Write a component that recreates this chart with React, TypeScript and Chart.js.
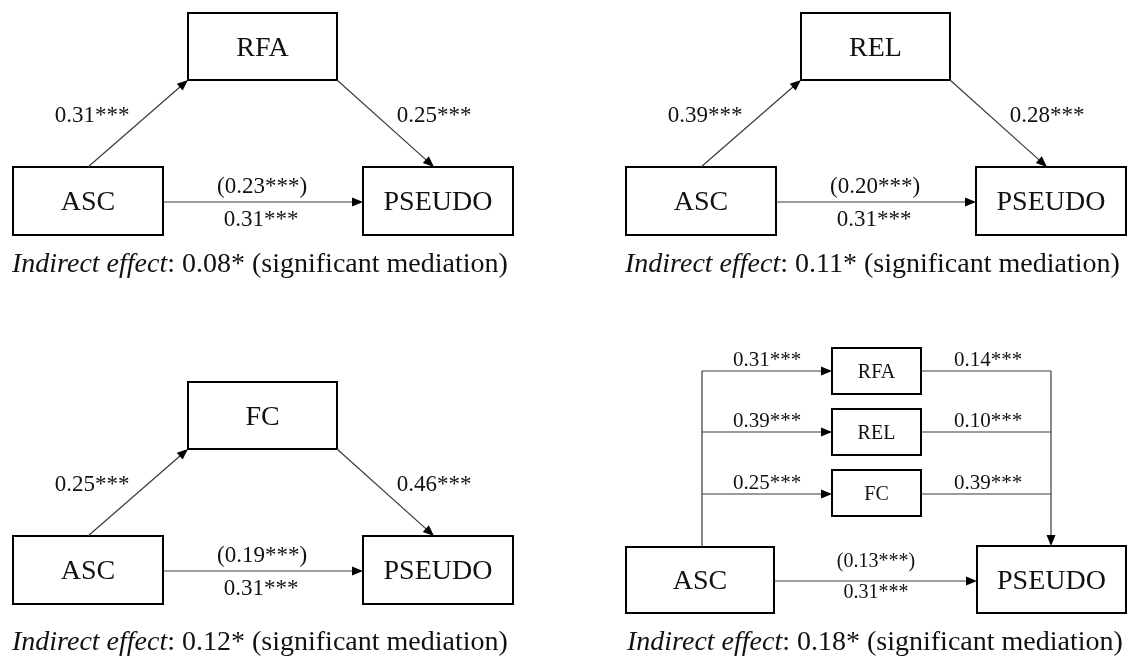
import React, { useEffect, useRef } from "react";
import Chart from "chart.js/auto";

// ---------- data ----------
const predictor = "ASC";
const outcome = "PSEUDO";
const mediators = ["RFA", "REL", "FC"];
const aPaths = [0.31, 0.39, 0.25];
const bPaths = [0.25, 0.28, 0.46];
const directEffects = [0.23, 0.2, 0.19];
const totalEffects = [0.31, 0.31, 0.31];
const indirectEffects = [0.08, 0.11, 0.12];
const pathStars = "***";
const indirectStars = "*";
const mediationNote = "(significant mediation)";

const parallelMediators = ["RFA", "REL", "FC"];
const parallelA = [0.31, 0.39, 0.25];
const parallelB = [0.14, 0.1, 0.39];
const parallelDirect = [0.13];
const parallelTotal = [0.31];
const parallelIndirect = [0.18];

// ---------- layout (positions in scale units) ----------
const W = 1136;
const H = 659;
const panelOffsets = [
  { dx: 0, dy: 0, noteY: 272 },
  { dx: 613, dy: 0, noteY: 272 },
  { dx: 0, dy: 369, noteY: 650 },
];
const simple = {
  asc: { x: 13, y: 167, w: 150, h: 68 },
  med: { x: 188, y: 13, w: 149, h: 67 },
  out: { x: 363, y: 167, w: 150, h: 68 },
  aFrom: [88, 167], aTo: [188, 80],
  bFrom: [337, 80], bTo: [434, 167],
  cY: 202,
  aLabel: [92, 122], bLabel: [434, 122],
  directLabel: [262, 193], totalLabel: [261, 226],
  noteX: 12,
};
const par = {
  asc: { x: 626, y: 547, w: 148, h: 66 },
  out: { x: 977, y: 546, w: 149, h: 67 },
  medX: 832, medW: 89, medTops: [348, 409, 470], medH: 46,
  rows: [371, 432, 494],
  trunkL: 702, trunkR: 1051,
  aLabelX: 767, bLabelX: 988,
  cY: 581, directLabel: [876, 567], totalLabel: [876, 598],
  noteX: 627, noteY: 650,
};

const FONT = '"Liberation Serif", "Times New Roman", serif';
const LINE = "#3a3a3a";

const fmt = (v: number, s: string) => v.toFixed(2) + s;

const diagramPlugin = {
  id: "mediationDiagram",
  afterDraw(chart: any) {
    const ctx: CanvasRenderingContext2D = chart.ctx;
    const xs = chart.scales.x;
    const ys = chart.scales.y;
    const X = (v: number) => xs.getPixelForValue(v);
    const Y = (v: number) => ys.getPixelForValue(v);

    const text = (t: string, x: number, y: number, size: number, align: CanvasTextAlign = "center", italic = false) => {
      ctx.save();
      ctx.fillStyle = "#111";
      ctx.font = `${italic ? "italic " : ""}${size}px ${FONT}`;
      ctx.textAlign = align;
      ctx.textBaseline = "alphabetic";
      ctx.fillText(t, X(x), Y(y));
      ctx.restore();
    };
    const box = (b: { x: number; y: number; w: number; h: number }, label: string, size: number) => {
      ctx.save();
      ctx.strokeStyle = "#000";
      ctx.lineWidth = 2;
      const x1 = X(b.x), y1 = Y(b.y), x2 = X(b.x + b.w), y2 = Y(b.y + b.h);
      ctx.strokeRect(x1, y1, x2 - x1, y2 - y1);
      ctx.restore();
      text(label, b.x + b.w / 2, b.y + b.h / 2 + size * 0.33, size);
    };
    const line = (x1: number, y1: number, x2: number, y2: number, head: boolean) => {
      const px1 = X(x1), py1 = Y(y1), px2 = X(x2), py2 = Y(y2);
      ctx.save();
      ctx.strokeStyle = LINE;
      ctx.fillStyle = "#000";
      ctx.lineWidth = 1.2;
      const ang = Math.atan2(py2 - py1, px2 - px1);
      const L = 11, Wd = 4.5;
      const ex = head ? px2 - Math.cos(ang) * L * 0.8 : px2;
      const ey = head ? py2 - Math.sin(ang) * L * 0.8 : py2;
      ctx.beginPath();
      ctx.moveTo(px1, py1);
      ctx.lineTo(ex, ey);
      ctx.stroke();
      if (head) {
        const bx = px2 - Math.cos(ang) * L;
        const by = py2 - Math.sin(ang) * L;
        ctx.beginPath();
        ctx.moveTo(px2, py2);
        ctx.lineTo(bx + Math.sin(ang) * Wd, by - Math.cos(ang) * Wd);
        ctx.lineTo(bx - Math.sin(ang) * Wd, by + Math.cos(ang) * Wd);
        ctx.closePath();
        ctx.fill();
      }
      ctx.restore();
    };
    const note = (x: number, y: number, value: number) => {
      ctx.save();
      ctx.fillStyle = "#111";
      ctx.textBaseline = "alphabetic";
      ctx.textAlign = "left";
      ctx.font = `italic 28px ${FONT}`;
      const part1 = "Indirect effect";
      ctx.fillText(part1, X(x), Y(y));
      const w1 = ctx.measureText(part1).width;
      ctx.font = `28px ${FONT}`;
      ctx.fillText(`: ${fmt(value, indirectStars)} ${mediationNote}`, X(x) + w1, Y(y));
      ctx.restore();
    };

    // three simple mediation panels
    mediators.forEach((m, i) => {
      const { dx, dy, noteY } = panelOffsets[i];
      const sh = (b: any) => ({ x: b.x + dx, y: b.y + dy, w: b.w, h: b.h });
      box(sh(simple.asc), predictor, 28);
      box(sh(simple.med), m, 28);
      box(sh(simple.out), outcome, 28);
      line(simple.aFrom[0] + dx, simple.aFrom[1] + dy, simple.aTo[0] + dx, simple.aTo[1] + dy, true);
      line(simple.bFrom[0] + dx, simple.bFrom[1] + dy, simple.bTo[0] + dx, simple.bTo[1] + dy, true);
      line(simple.asc.x + simple.asc.w + dx, simple.cY + dy, simple.out.x + dx, simple.cY + dy, true);
      text(fmt(aPaths[i], pathStars), simple.aLabel[0] + dx, simple.aLabel[1] + dy, 23);
      text(fmt(bPaths[i], pathStars), simple.bLabel[0] + dx, simple.bLabel[1] + dy, 23);
      text(`(${fmt(directEffects[i], pathStars)})`, simple.directLabel[0] + dx, simple.directLabel[1] + dy, 23);
      text(fmt(totalEffects[i], pathStars), simple.totalLabel[0] + dx, simple.totalLabel[1] + dy, 23);
      note(simple.noteX + dx, noteY, indirectEffects[i]);
    });

    // parallel mediation panel
    box(par.asc, predictor, 28);
    box(par.out, outcome, 28);
    line(par.trunkL, par.asc.y, par.trunkL, par.rows[0], false);
    line(par.trunkR, par.rows[0], par.trunkR, par.out.y, true);
    parallelMediators.forEach((m, i) => {
      box({ x: par.medX, y: par.medTops[i], w: par.medW, h: par.medH }, m, 20);
      line(par.trunkL, par.rows[i], par.medX, par.rows[i], true);
      line(par.medX + par.medW, par.rows[i], par.trunkR, par.rows[i], false);
      text(fmt(parallelA[i], pathStars), par.aLabelX, par.rows[i] - 5, 21);
      text(fmt(parallelB[i], pathStars), par.bLabelX, par.rows[i] - 5, 21);
    });
    line(par.asc.x + par.asc.w, par.cY, par.out.x, par.cY, true);
    text(`(${fmt(parallelDirect[0], pathStars)})`, par.directLabel[0], par.directLabel[1], 20);
    text(fmt(parallelTotal[0], pathStars), par.totalLabel[0], par.totalLabel[1], 20);
    note(par.noteX, par.noteY, parallelIndirect[0]);
  },
};

export default function App() {
  const ref = useRef<HTMLCanvasElement | null>(null);
  useEffect(() => {
    document.body.style.margin = "0";
    if (!ref.current) return;
    const chart = new Chart(ref.current, {
      type: "scatter",
      data: { datasets: [] },
      options: {
        animation: false,
        responsive: false,
        maintainAspectRatio: false,
        layout: { padding: 0 },
        plugins: { legend: { display: false }, tooltip: { enabled: false } },
        scales: {
          x: { type: "linear", min: 0, max: W, display: false },
          y: { type: "linear", min: 0, max: H, reverse: true, display: false },
        },
      },
      plugins: [diagramPlugin],
    });
    return () => chart.destroy();
  }, []);
  return (
    <div style={{ width: W, height: H, background: "#fff" }}>
      <canvas ref={ref} width={W} height={H} style={{ display: "block" }} />
    </div>
  );
}
